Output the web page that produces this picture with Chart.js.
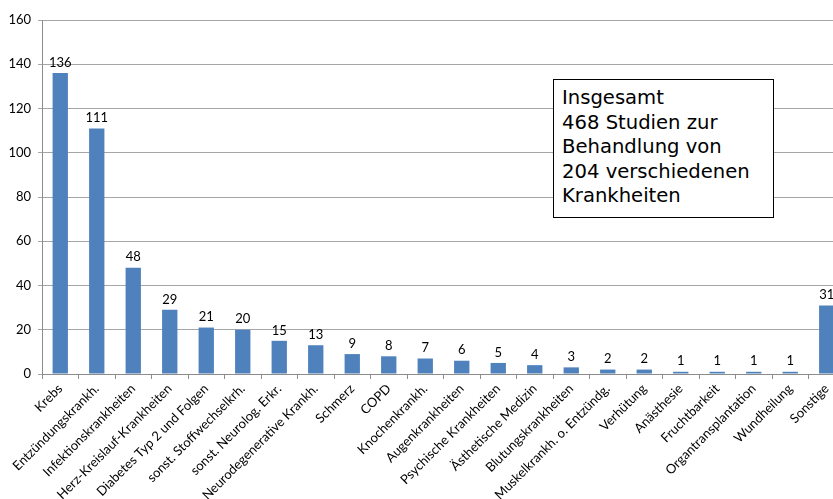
<!DOCTYPE html>
<html>
<head>
<meta charset="utf-8">
<script src="https://cdn.jsdelivr.net/npm/chart.js@4"></script>
<style>
  html, body { margin: 0; padding: 0; overflow: hidden; background: #fff; }
  #wrap { position: relative; width: 845px; height: 499px; }
  #infoBox {
    position: absolute; left: 553px; top: 79px; width: 211px; height: 131px;
    border: 1px solid #000; background: #fff; padding: 6px 0 0 8px;
    font-family: "DejaVu Sans", Verdana, sans-serif; font-size: 19.6px; line-height: 24.5px; color: #000;
  }
</style>
</head>
<body>
<div id="wrap">
  <canvas id="myChart"></canvas>
  <div id="infoBox">Insgesamt<br>468 Studien zur<br>Behandlung von<br>204 verschiedenen<br>Krankheiten</div>
</div>
<script>
const categories = ['Krebs', 'Entzündungskrankh.', 'Infektionskrankheiten', 'Herz-Kreislauf-Krankheiten',
  'Diabetes Typ 2 und Folgen', 'sonst. Stoffwechselkrh.', 'sonst. Neurolog. Erkr.', 'Neurodegenerative Krankh.',
  'Schmerz', 'COPD', 'Knochenkrankh.', 'Augenkrankheiten', 'Psychische Krankheiten', 'Ästhetische Medizin',
  'Blutungskrankheiten', 'Muskelkrankh. o. Entzündg.', 'Verhütung', 'Anästhesie', 'Fruchtbarkeit',
  'Organtransplantation', 'Wundheilung', 'Sonstige'];

// Anzahl Studien je Krankheit
const studyCounts = [136, 111, 48, 29, 21, 20, 15, 13, 9, 8, 7, 6, 5, 4, 3, 2, 2, 1, 1, 1, 1, 31];

const yTicks = [0, 20, 40, 60, 80, 100, 120, 140, 160];

// draws the value above each bar
const valueLabels = {
  id: 'valueLabels',
  afterDatasetsDraw(chart) {
    const ctx = chart.ctx;
    const meta = chart.getDatasetMeta(0);
    ctx.save();
    ctx.font = '13px Lato';
    ctx.fillStyle = '#000';
    ctx.textAlign = 'center';
    ctx.textBaseline = 'bottom';
    meta.data.forEach(function(bar, i) {
      ctx.fillText(studyCounts[i], bar.x, bar.y - 4);
    });
    ctx.restore();
  }
};

const locationOfChart = document.getElementById('myChart');

new Chart(locationOfChart, {
  type: 'bar',
  data: {
    labels: categories,
    datasets: [{
      label: 'Studien',
      data: studyCounts,
      backgroundColor: '#4F81BD',
      categoryPercentage: 1.0,
      barPercentage: 0.42
    }]
  },
  plugins: [valueLabels],
  options: {
    responsive: true,
    maintainAspectRatio: false,
    animation: false,
    layout: { padding: { top: 20, right: 0, left: 0, bottom: 0 } },
    plugins: {
      legend: { display: false },
      tooltip: { enabled: false }
    },
    scales: {
      x: {
        grid: { drawOnChartArea: false, drawTicks: true, tickLength: 5, color: '#8c8c8c', offset: true },
        border: { color: '#8c8c8c' },
        ticks: {
          color: '#000', font: { family: 'Lato', size: 13 }, minRotation: 45, maxRotation: 45, autoSkip: false, padding: 2
        },
        afterFit(scale) { scale.height = 125; }
      },
      y: {
        min: 0,
        max: 160,
        afterBuildTicks(scale) { scale.ticks = yTicks.map(v => ({ value: v })); },
        grid: { color: '#a6a6a6', tickLength: 4 },
        border: { color: '#8c8c8c' },
        ticks: { color: '#000', font: { family: 'Lato', size: 13 }, padding: 7 },
        afterFit(scale) { scale.width = 42; }
      }
    }
  }
});
</script>
</body>
</html>
